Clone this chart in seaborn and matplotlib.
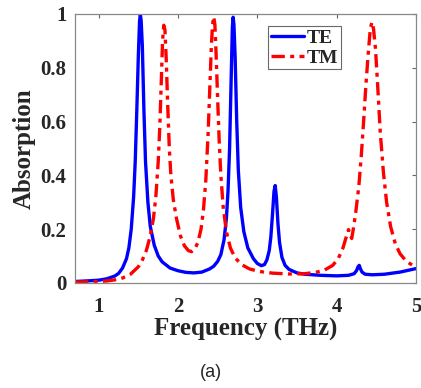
import matplotlib
matplotlib.use("Agg")
import matplotlib.pyplot as plt
import seaborn as sns
import pandas as pd

# TE polarisation absorption spectrum
te_freq = [0.70, 0.90, 1.00, 1.10, 1.20, 1.25, 1.30, 1.35, 1.38, 1.41, 1.44, 1.46,
           1.48, 1.50, 1.515, 1.525, 1.535, 1.55, 1.57, 1.59, 1.62, 1.65, 1.70, 1.75, 1.80,
           1.90, 2.00, 2.10, 2.20, 2.30, 2.40, 2.45, 2.50, 2.54, 2.58, 2.61, 2.63,
           2.65, 2.67, 2.685, 2.695, 2.705, 2.72, 2.74, 2.76, 2.79, 2.83, 2.88, 2.95, 3.00,
           3.05, 3.09, 3.12, 3.15, 3.17, 3.19, 3.21, 3.225, 3.24, 3.26, 3.28, 3.31,
           3.35, 3.40, 3.50, 3.60, 3.80, 4.00, 4.15, 4.22, 4.25, 4.27, 4.285, 4.30,
           4.32, 4.36, 4.45, 4.60, 4.80, 5.00]
te_abs = [0.005, 0.008, 0.010, 0.015, 0.025, 0.035, 0.055, 0.090, 0.130, 0.200, 0.320, 0.450,
          0.640, 0.850, 0.975, 0.998, 0.975, 0.880, 0.640, 0.450, 0.300, 0.210, 0.140, 0.100, 0.078,
          0.055, 0.045, 0.039, 0.037, 0.040, 0.052, 0.062, 0.080, 0.105, 0.160, 0.240, 0.340,
          0.500, 0.760, 0.950, 0.988, 0.960, 0.840, 0.600, 0.420, 0.280, 0.190, 0.130, 0.090, 0.072,
          0.064, 0.068, 0.085, 0.120, 0.170, 0.250, 0.340, 0.362, 0.320, 0.220, 0.150, 0.095,
          0.065, 0.050, 0.037, 0.032, 0.028, 0.026, 0.028, 0.034, 0.045, 0.060, 0.065, 0.052,
          0.040, 0.032, 0.030, 0.032, 0.040, 0.053]

# TM polarisation absorption spectrum
tm_freq = [0.70, 0.90, 1.00, 1.10, 1.20, 1.30, 1.40, 1.50, 1.55, 1.60, 1.65, 1.69,
           1.72, 1.75, 1.77, 1.79, 1.805, 1.82, 1.835, 1.85, 1.87, 1.89, 1.91, 1.94, 1.98,
           2.03, 2.08, 2.13, 2.17, 2.21, 2.25, 2.29, 2.32, 2.35, 2.38, 2.40, 2.42,
           2.435, 2.45, 2.465, 2.48, 2.50, 2.52, 2.54, 2.57, 2.61, 2.66, 2.72, 2.80, 2.90,
           3.00, 3.10, 3.20, 3.40, 3.60, 3.75, 3.85, 3.95, 4.02, 4.08, 4.12, 4.15,
           4.17, 4.19, 4.21, 4.24, 4.28, 4.31, 4.34, 4.37, 4.40, 4.425, 4.445, 4.465,
           4.49, 4.52, 4.55, 4.59, 4.63, 4.68, 4.74, 4.80, 4.88, 5.00]
tm_abs = [0.003, 0.004, 0.005, 0.007, 0.011, 0.018, 0.032, 0.060, 0.085, 0.120, 0.175, 0.240,
          0.320, 0.450, 0.580, 0.760, 0.900, 0.958, 0.940, 0.840, 0.660, 0.500, 0.400, 0.310, 0.240,
          0.175, 0.138, 0.120, 0.116, 0.125, 0.150, 0.200, 0.270, 0.380, 0.560, 0.720, 0.880,
          0.960, 0.990, 0.960, 0.850, 0.680, 0.520, 0.400, 0.280, 0.190, 0.130, 0.093, 0.068, 0.052,
          0.044, 0.039, 0.036, 0.033, 0.034, 0.040, 0.048, 0.065, 0.090, 0.130, 0.170, 0.198,
          0.180, 0.165, 0.200, 0.260, 0.360, 0.470, 0.600, 0.740, 0.860, 0.945, 0.970, 0.945,
          0.870, 0.720, 0.560, 0.410, 0.300, 0.210, 0.145, 0.108, 0.080, 0.057]

x_ticks = [1, 2, 3, 4, 5]
y_ticks = [0, 0.2, 0.4, 0.6, 0.8, 1]
y_tick_labels = ["0", "0.2", "0.4", "0.6", "0.8", "1"]

sns.set_style("white")
plt.rcParams["font.family"] = ["Liberation Serif", "DejaVu Serif"]

te = pd.DataFrame({"Frequency": te_freq, "Absorption": te_abs})
tm = pd.DataFrame({"Frequency": tm_freq, "Absorption": tm_abs})

fig = plt.figure(figsize=(4.21, 3.88), dpi=100)
ax = fig.add_axes([0.178, 0.271, 0.810, 0.693])

sns.lineplot(data=te, x="Frequency", y="Absorption", ax=ax, color="#0000ff",
             lw=2.4, label="TE", sort=False)
sns.lineplot(data=tm, x="Frequency", y="Absorption", ax=ax, color="#ff0000",
             lw=2.4, label="TM", sort=False)
ax.lines[1].set_dashes([4, 1.6, 1.2, 1.6])

ax.set_xlim(0.7, 5)
ax.set_ylim(0, 1)
ax.set_xticks(x_ticks)
ax.set_xticklabels([str(t) for t in x_ticks])
ax.set_yticks(y_ticks)
ax.set_yticklabels(y_tick_labels)

ax.tick_params(direction="in", length=3, width=0.8, color="#666666",
               top=True, right=True, labelsize=15, pad=6)
ax.tick_params(axis="x", pad=10)
for lab in ax.get_xticklabels() + ax.get_yticklabels():
    lab.set_fontweight("bold")
for sp in ax.spines.values():
    sp.set_color("#888888")
    sp.set_linewidth(0.9)

ax.set_xlabel("Frequency (THz)", fontsize=18, fontweight="bold", va="center")
ax.set_ylabel("Absorption", fontsize=18, fontweight="bold", va="center")
ax.xaxis.set_label_coords(0.5, -0.172)
ax.yaxis.set_label_coords(-0.148, 0.5)

leg = ax.legend(loc="upper left", bbox_to_anchor=(0.566, 0.955), frameon=True,
                fancybox=False, prop={"weight": "bold", "size": 14},
                handlelength=1.7, handletextpad=0.15, borderpad=0.15,
                labelspacing=0.12, borderaxespad=0)
leg.get_frame().set_edgecolor("#444444")
leg.get_frame().set_linewidth(0.8)

fig.text(0.5, 0.039, "(a)", ha="center", va="center", fontsize=13,
         family="Liberation Sans")

fig.savefig("out.png", dpi=100)
